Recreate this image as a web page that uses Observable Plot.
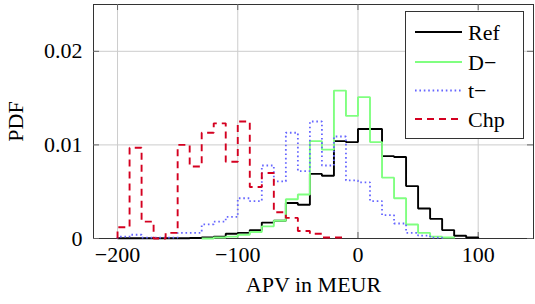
<!DOCTYPE html>
<html><head><meta charset="utf-8">
<script src="https://cdn.jsdelivr.net/npm/d3@7"></script>
<script src="https://cdn.jsdelivr.net/npm/@observablehq/plot@0.6"></script>
<style>
body{margin:0;background:#fff;}
#wrap{position:relative;width:535px;height:304px;font-family:"Liberation Serif",serif;}
#legend{position:absolute;left:405px;top:11px;width:119px;height:128px;border:1px solid #333;background:#fff;box-sizing:border-box;}
#legend svg{display:block;}
</style></head><body><div id="wrap"></div>
<script>
// Bin left edges (bin width 10)
const binStart = [-200,-190,-180,-170,-160,-150,-140,-130,-120,-110,-100,-90,-80,-70,-60,-50,-40,-30,-20,-10,0,10,20,30,40,50,60,70,80,90];
const binWidth = 10;
const ref   = [0.00003,0.00003,0.00003,0.00003,0.00003,0.00003,0.00005,0.0001,0.0002,0.0005,0.0006,0.0009,0.0017,0.0019,0.0038,0.0036,0.0069,0.0067,0.0104,0.0103,0.0117,0.0117,0.0088,0.0087,0.0056,0.0032,0.0021,0.0009,0.0003,0.0001];
const dMinus= [null,null,null,null,null,null,null,0,0.0001,0.0002,0.0004,0.0007,0.0013,0.0019,0.0042,0.0047,0.0104,0.0095,0.0158,0.0131,0.0151,0.0103,0.0065,0.0043,0.0015,0.0006,0.0002,0.0001,null,null];
const tMinus= [0.0002,0.0004,0.0001,0.0001,0.0001,0.0006,0.0006,0.0015,0.0018,0.0023,0.0043,0.0040,0.0078,0.0061,0.0113,0.0072,0.0125,0.0078,0.0109,0.0062,0.0060,0.0040,0.0025,0.0016,0.0006,0.0003,0.0001,null,null,null];
const chp   = [0.0012,0.0097,0.0018,0,0.0006,0.0100,0.0077,0.0113,0.0123,0.0082,0.0125,0.0055,0.0070,0.0028,0.0022,0.0008,0.0005,0.0001,0.0001,null,null,null,null,null,null,null,null,null,null,null];
const seriesNames = ["Ref","D\u2212","t\u2212","Chp"];
const seriesColors = ["#000000","#80ff80","#6666ff","#d40020"];
const seriesDash = [null,null,"1.6,2.8","7,5"];
const seriesWidth = [1.9,1.9,1.8,1.9];
const xTicks = [-200,-100,0,100];
const yTicks = [0,0.01,0.02];

function stepPoints(vals){
  const idx = vals.map((v,i)=>v==null?-1:i).filter(i=>i>=0);
  const a = idx[0], b = idx[idx.length-1];
  const pts = [{x: binStart[a], y: 0}];
  for(let i=a;i<=b;i++) pts.push({x: binStart[i], y: vals[i]});
  pts.push({x: binStart[b]+binWidth, y: 0});
  return pts;
}
const allVals = [ref,dMinus,tMinus,chp];

const fmtX = d => d<0 ? "\u2212"+(-d) : String(d);
const fmtY = d => d===0 ? "0" : String(d);
const iw = 440, ih = 234;
const FS = "22px";

const plot = Plot.plot({
  width: 535, height: 304,
  marginLeft: 93, marginRight: 2, marginTop: 4, marginBottom: 66,
  x: {domain: [-220, 146]},
  y: {domain: [0, 0.025]},
  style: {fontFamily: "'Liberation Serif', serif", fontSize: FS, color: "#000", background: "#fff", overflow: "visible"},
  marks: [
    Plot.gridX(xTicks, {stroke: "#cccccc", strokeOpacity: 1}),
    Plot.gridY(yTicks, {stroke: "#cccccc", strokeOpacity: 1}),
    Plot.frame({stroke: "#333"}),
    Plot.tickX(xTicks, {x: d=>d, stroke: "#666", insetBottom: ih-6}),
    Plot.tickX(xTicks, {x: d=>d, stroke: "#666", insetTop: ih-6}),
    Plot.tickY(yTicks, {y: d=>d, stroke: "#666", insetRight: iw-6}),
    Plot.tickY(yTicks, {y: d=>d, stroke: "#666", insetLeft: iw-6}),
    Plot.axisX(xTicks, {tickSize: 0, tickPadding: 8, tickFormat: fmtX, label: "APV in MEUR", labelAnchor: "center", labelArrow: false, labelOffset: 53}),
    Plot.axisY(yTicks, {tickSize: 0, tickPadding: 11, tickFormat: fmtY, label: "PDF", labelAnchor: "center", labelArrow: false, labelOffset: 86}),
    ...allVals.map((vals,k)=>Plot.line(stepPoints(vals), {x: "x", y: "y", curve: "step-after", stroke: seriesColors[k], strokeWidth: seriesWidth[k], strokeDasharray: seriesDash[k], strokeLinejoin: "miter", strokeLinecap: "butt"}))
  ]
});
const wrap = document.getElementById("wrap");
wrap.appendChild(plot);

// legend
const leg = document.createElement("div");
leg.id = "legend";
const ns = "http://www.w3.org/2000/svg";
const svg = document.createElementNS(ns,"svg");
svg.setAttribute("width","117"); svg.setAttribute("height","126");
const rowY = [20, 50, 78.5, 107];
seriesNames.forEach((name,k)=>{
  const l = document.createElementNS(ns,"line");
  l.setAttribute("x1",9); l.setAttribute("x2",56);
  l.setAttribute("y1",rowY[k]); l.setAttribute("y2",rowY[k]);
  l.setAttribute("stroke",seriesColors[k]); l.setAttribute("stroke-width",seriesWidth[k]);
  if(seriesDash[k]) l.setAttribute("stroke-dasharray",seriesDash[k]);
  svg.appendChild(l);
  const t = document.createElementNS(ns,"text");
  t.setAttribute("x",62); t.setAttribute("y",rowY[k]);
  t.setAttribute("dy","0.35em");
  t.setAttribute("font-family","'Liberation Serif', serif");
  t.setAttribute("font-size",FS);
  t.textContent = name;
  svg.appendChild(t);
});
leg.appendChild(svg);
wrap.appendChild(leg);
</script>
</body></html>
